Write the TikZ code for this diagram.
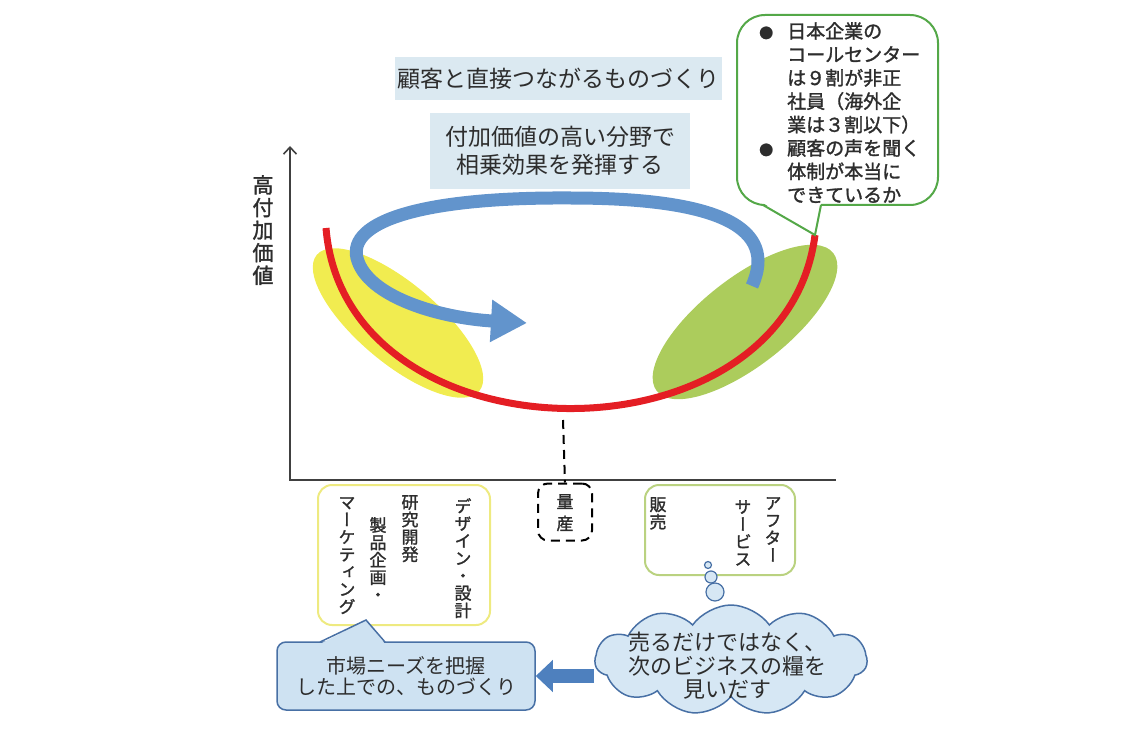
\documentclass[tikz,border=0pt]{standalone}
\usepackage{fontspec}
\setmainfont{Noto Sans CJK JP}[AutoFakeBold=1.5]
\newfontfamily\vfont{Noto Sans CJK JP}[RawFeature=+vert,AutoFakeBold=1.5]
\usetikzlibrary{arrows.meta,shapes.symbols}

\definecolor{boxblue}{RGB}{219,233,241}
\definecolor{loopblue}{RGB}{98,148,204}
\definecolor{curvered}{RGB}{228,30,36}
\definecolor{fillyellow}{RGB}{241,236,80}
\definecolor{fillgreen}{RGB}{172,204,92}
\definecolor{notegreen}{RGB}{84,168,72}
\definecolor{lineyellow}{RGB}{238,234,128}
\definecolor{linegreen}{RGB}{186,210,128}
\definecolor{cloudfill}{RGB}{214,231,244}
\definecolor{cloudline}{RGB}{72,112,165}
\definecolor{calloutfill}{RGB}{206,226,242}
\definecolor{arrowblue}{RGB}{78,128,190}
\definecolor{txtgray}{RGB}{45,45,45}

\newcommand{\blt}{\makebox[31pt][l]{\hspace{3pt}{\fontsize{14}{14}\selectfont●}}}
\newcommand{\ind}{\hspace*{31pt}}

\begin{document}
\begin{tikzpicture}
 [x=1pt,y=-1pt,
  every node/.style={inner sep=0pt,text=txtgray},
  titlebox/.style={fill=boxblue,font=\fontsize{23}{28}\selectfont,align=center},
  vcol/.style={anchor=north,align=center,font=\vfont\bfseries\fontsize{17}{17.4}\selectfont},
  labelbox/.style={rounded corners=14pt,line width=2pt},
  axisline/.style={line width=1.6pt,draw=black!75},
  bubble/.style={draw=cloudline,fill=cloudfill,line width=1.2pt}]
  \useasboundingbox (0,0) rectangle (1140,735);

  % ellipses, red curve and blue loop
  \fill[fillyellow,rotate around={-40:(398,323)}] (398,323) ellipse [x radius=106,y radius=40];
  \fill[fillgreen,rotate around={38:(745,322)}] (745,322) ellipse [x radius=112,y radius=44];
  \coordinate (redleft) at (326,228);
  \coordinate (redright) at (815,235);
  \coordinate (redlow) at (563,420);
  \draw[curvered,line width=7pt] (redleft) .. controls (345,465) and (785,470) .. (redright);
  \draw[loopblue,line width=13pt,-{Triangle[length=36pt,width=40pt]}]
    (752,286) .. controls (778,228) and (720,198) .. (570,198)
    .. controls (420,197) and (348,222) .. (357,258)
    .. controls (367,297) and (440,318) .. (527,323);

  % axes
  \coordinate (origin) at (290,480);
  \coordinate (ytop) at (290,146);
  \coordinate (xend) at (836,480);
  \draw[axisline,{Straight Barb[length=7pt,width=13pt]}-] (ytop) -- (origin) -- (xend);
  \node (ylabel) [anchor=north,align=center,font=\bfseries\fontsize{21}{22.6}\selectfont] at (263,175) {高\\付\\加\\価\\値};

  \node (direct) [titlebox,minimum width=327pt,minimum height=43pt] at (558,79) {顧客と直接つながるものづくり};
  \node (synergy) [titlebox,minimum width=260pt,minimum height=76pt] at (560,151) {付加価値の高い分野で\\相乗効果を発揮する};

  % callout top right
  \node (note) [draw=notegreen,fill=white,line width=2pt,rounded corners=28pt,minimum width=201pt,minimum height=190pt] at (837.5,110) {};
  \fill[white] (763,203) -- (821,203) -- (redright) -- cycle;
  \draw[notegreen,line width=2pt] (763,205) -- (redright) -- (821,205);
  \node (notetext) [anchor=north west,align=left,font=\bfseries\fontsize{19}{23.4}\selectfont] at (756,22)
    {\blt 日本企業の\\\ind コールセンター\\\ind は９割が非正\\\ind 社員（海外企\\\ind 業は３割以下）\\\blt 顧客の声を聞く\\\ind 体制が本当に\\\ind できているか};

  % boxes under the axis
  \node (design) [labelbox,draw=lineyellow,minimum width=172pt,minimum height=140pt] at (404,555) {};
  \node (designcol) [vcol] at (463,498) {デ\\ザ\\イ\\ン\\・\\設\\計};
  \node (researchcol) [vcol] at (410,495) {研\\究\\開\\発};
  \node (plancol) [vcol] at (378,517) {製\\品\\企\\画\\・};
  \node (marketingcol) [vcol] at (347,497) {マ\\ー\\ケ\\テ\\ィ\\ン\\グ};

  \node (mass) [labelbox,draw=black,dash pattern=on 9pt off 6pt,rounded corners=10pt,minimum width=54pt,minimum height=57pt] at (565,512) {};
  \node (masscol) [vcol,font=\vfont\bfseries\fontsize{17}{22}\selectfont] at (565,494) {量\\産};
  \draw[line width=2pt,dash pattern=on 9pt off 6pt] (redlow) -- (mass.north);

  \node (sales) [labelbox,draw=linegreen,minimum width=150pt,minimum height=90pt] at (720,530) {};
  \node (salescol) [vcol] at (658,497) {販\\売};
  \node (servicecol) [vcol] at (743,500) {サ\\ー\\ビ\\ス};
  \node (aftercol) [vcol] at (773,497) {ア\\フ\\タ\\ー};

  \foreach \cx/\cy/\r in {708/565/3.5,711/577/6,715/592/9}
    \draw[bubble] (\cx,\cy) circle [radius=\r];

  \node (cloud) [cloud,cloud puffs=11,cloud puff arc=110,cloud ignores aspect,draw=cloudline,fill=cloudfill,line width=1.5pt,minimum width=272pt,minimum height=110pt] at (731,660) {};
  \node (idea) [align=center,font=\fontsize{22}{23.5}\selectfont] at (727,666) {売るだけではなく、\\次のビジネスの糧を\\見いだす};

  \node (market) [draw=cloudline,fill=calloutfill,line width=1.5pt,rounded corners=9pt,minimum width=258pt,minimum height=68pt] at (406,676) {};
  \fill[calloutfill] (320,644) -- (366,620) -- (385,644) -- cycle;
  \draw[cloudline,line width=1.5pt] (320,642) -- (366,620) -- (385,642);
  \node (markettext) [align=center,font=\fontsize{20}{21.5}\selectfont] at (406,676) {市場ニーズを把握\\した上での、ものづくり};
  \draw[arrowblue,line width=14pt,-{Triangle[length=17pt,width=31pt]}] (cloud.west |- market.east) -- (market.east);
\end{tikzpicture}
\end{document}
